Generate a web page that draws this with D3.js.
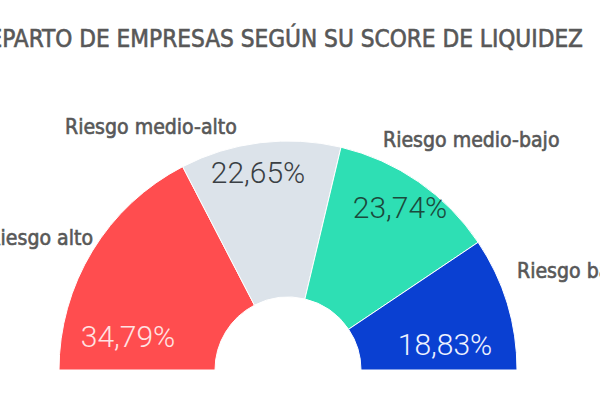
<!DOCTYPE html>
<html><head><meta charset="utf-8">
<script src="https://cdn.jsdelivr.net/npm/d3@7"></script>
<style>html,body{margin:0;padding:0;background:#fff;overflow:hidden}</style>
</head><body>
<svg id="c" width="600" height="400"></svg>
<script>
const title = "REPARTO DE EMPRESAS SEGÚN SU SCORE DE LIQUIDEZ";
const categories = ["Riesgo alto", "Riesgo medio-alto", "Riesgo medio-bajo", "Riesgo bajo"];
const values = [34.79, 22.65, 23.74, 18.83];
const valueLabels = ["34,79%", "22,65%", "23,74%", "18,83%"];

// layout / style (not data)
const colors = ["#FF4D4F", "#DCE3EA", "#2EDFB4", "#0A40D2"];
const pctColors = ["#FFE3E3", "#3A3F44", "#1B4A3C", "#EEF2FF"];
const pctPos = [[-160, -23], [-30, -187], [112, -152], [157, -15]];
const catPos = [{x: 93, y: 245, a: "end"}, {x: 65, y: 134, a: "start"}, {x: 383, y: 147, a: "start"}, {x: 517, y: 278, a: "start"}];
const cx = 288, cy = 370, rOuter = 229, rInner = 73;
const labelFont = "'DejaVu Sans Condensed', 'DejaVu Sans', sans-serif";
const textColor = "#585858";

const svg = d3.select("#c");
const g = svg.append("g").attr("transform", `translate(${cx},${cy})`);

const pie = d3.pie().sort(null).value(d => d).startAngle(-Math.PI / 2).endAngle(Math.PI / 2);
const arc = d3.arc().innerRadius(rInner).outerRadius(rOuter);
const arcs = pie(values);

g.selectAll("path.slice").data(arcs).join("path")
  .attr("class", "slice")
  .attr("d", arc)
  .attr("fill", (d, i) => colors[i])
  .attr("stroke", "#fff").attr("stroke-width", 1);

g.selectAll("text.pct").data(arcs).join("text")
  .attr("class", "pct")
  .attr("x", (d, i) => pctPos[i][0])
  .attr("y", (d, i) => pctPos[i][1])
  .attr("text-anchor", "middle")
  .attr("font-family", "Roboto, sans-serif")
  .attr("font-weight", 300)
  .attr("font-size", 30)
  .attr("fill", (d, i) => pctColors[i])
  .text((d, i) => valueLabels[i]);

const probe1 = svg.append("text").attr("font-family", labelFont).attr("font-size", 20).text("Riesgo medio-alto");
const lw = probe1.node().getComputedTextLength();
probe1.remove();
const labelSize = 20 * 172 / lw;

svg.selectAll("text.cat").data(categories).join("text")
  .attr("class", "cat")
  .attr("x", (d, i) => catPos[i].x)
  .attr("y", (d, i) => catPos[i].y)
  .attr("text-anchor", (d, i) => catPos[i].a)
  .attr("font-family", labelFont)
  .attr("font-size", labelSize)
  .attr("fill", textColor)
  .attr("stroke", textColor).attr("stroke-width", 0.6)
  .text(d => d);

const probe = svg.append("text").attr("font-family", labelFont).attr("font-size", 26).text(title.slice(2));
const w = probe.node().getComputedTextLength();
probe.remove();
svg.append("text")
  .attr("x", 583).attr("y", 47)
  .attr("text-anchor", "end")
  .attr("font-family", labelFont)
  .attr("font-size", 26 * 581 / w)
  .attr("fill", textColor)
  .attr("stroke", textColor).attr("stroke-width", 0.6)
  .text(title);
</script>
</body></html>
